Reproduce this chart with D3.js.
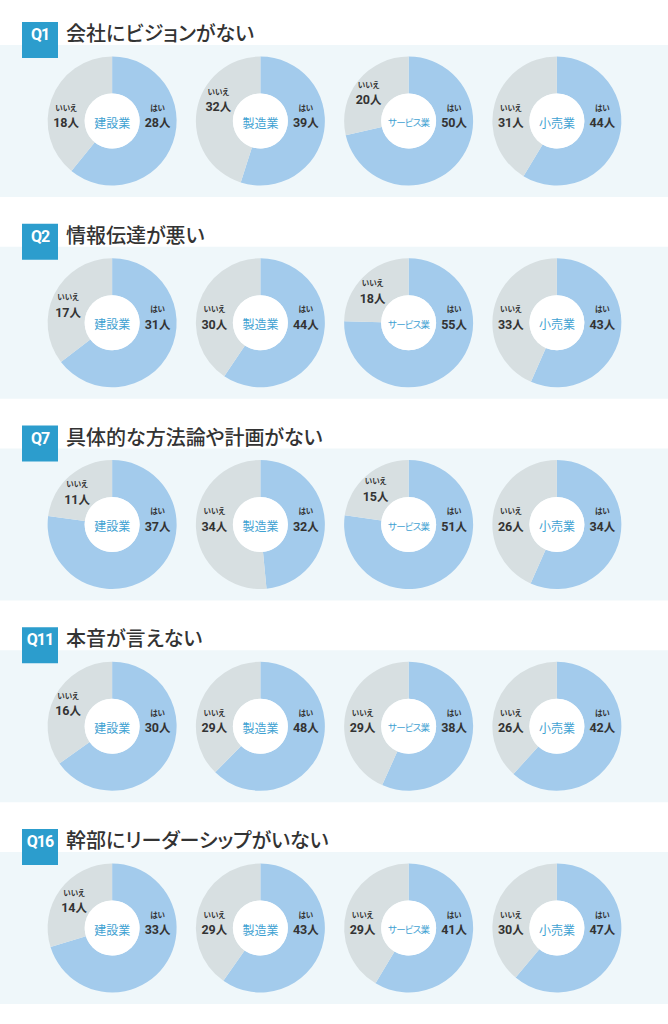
<!DOCTYPE html>
<html><head><meta charset="utf-8">
<script src="https://cdn.jsdelivr.net/npm/d3@7"></script>
<style>
html,body{margin:0;padding:0;background:#fff;}
svg{display:block;}
text{font-family:"Noto Sans CJK JP","Noto Sans",sans-serif;}
</style></head>
<body>
<script>
const questions = ["Q1","Q2","Q7","Q11","Q16"];
const titles = ["会社にビジョンがない","情報伝達が悪い","具体的な方法論や計画がない","本音が言えない","幹部にリーダーシップがいない"];
const industries = ["建設業","製造業","サービス業","小売業"];
const yesValues = [
  [28,39,50,44],
  [31,44,55,43],
  [37,32,51,34],
  [30,48,38,42],
  [33,43,41,47]
];
const noValues = [
  [18,32,20,31],
  [17,30,18,33],
  [11,34,15,26],
  [16,29,29,26],
  [14,29,29,30]
];
const answerLabels = ["はい","いいえ"];
const unit = "人";

// layout-only: offset of the いいえ label relative to each donut centre
const noLabelOffset = [
  [[-46,0],[-42,-16],[-40,-23],[-46,0]],
  [[-44,-12],[-46,0],[-36,-26],[-46,0]],
  [[-35,-27],[-46,0],[-33,-30],[-46,0]],
  [[-44,-17],[-46,0],[-46,0],[-46,0]],
  [[-38,-22],[-46,0],[-46,0],[-46,0]]
];

const W = 668, H = 1024;
const svg = d3.select("body").append("svg").attr("width", W).attr("height", H);

const sectionY = d3.scaleLinear().domain([0, questions.length - 1]).range([22, 829]);
const x = d3.scaleBand().domain(industries).range([38, 631]).padding(0);
const color = d3.scaleOrdinal().domain(answerLabels).range(["#a3cbec", "#d7dfe1"]);
const pie = d3.pie().sort(null).value(d => d.value);
const rOuter = 64.5, rInner = 27.5;
const arc = d3.arc().innerRadius(rInner).outerRadius(rOuter);

questions.forEach((q, qi) => {
  const top = sectionY(qi);
  const g = svg.append("g");
  // band
  g.append("rect").attr("x", 0).attr("y", top + 23).attr("width", W).attr("height", 152).attr("fill", "#eff7fa");
  // Q box
  g.append("rect").attr("x", 22).attr("y", top).attr("width", 36).attr("height", 36).attr("fill", "#2c9dcd");
  g.append("text").attr("x", 40).attr("y", top + 12.5).attr("text-anchor", "middle")
    .attr("dominant-baseline", "central")
    .style("font-family", "Roboto, 'DejaVu Sans', sans-serif").style("font-weight", 700)
    .style("font-size", "16px").style("letter-spacing", "-1px").attr("fill", "#fff").text(q);
  // title
  g.append("text").attr("x", 66).attr("y", top + 19)
    .style("font-size", "20px").style("font-weight", 500)
    .style("font-feature-settings", "'palt'")
    .attr("fill", "#333").text(titles[qi]);

  const cy = top + 99;
  industries.forEach((ind, ii) => {
    const cx = x(ind) + x.bandwidth() / 2;
    const data = [
      {key: answerLabels[0], value: yesValues[qi][ii]},
      {key: answerLabels[1], value: noValues[qi][ii]}
    ];
    const dg = g.append("g").attr("transform", `translate(${cx},${cy})`);
    dg.selectAll("path").data(pie(data)).join("path")
      .attr("d", arc).attr("fill", d => color(d.data.key));
    dg.append("circle").attr("r", rInner).attr("fill", "#fff");
    const ct = dg.append("text").attr("x", 0).attr("y", 1).attr("text-anchor", "middle")
      .attr("dominant-baseline", "central")
      .style("font-size", "12px").style("font-feature-settings", "'palt'")
      .attr("fill", "#3fa2d2").text(ind);
    let len = ct.node().getComputedTextLength();
    if (len > 42) {
      ct.style("letter-spacing", "-0.8px");
      len = ct.node().getComputedTextLength();
      if (len > 42) ct.style("font-size", (12 * 42 / len).toFixed(2) + "px");
    }

    // labels
    const off = noLabelOffset[qi][ii];
    const lab = [
      {dx: 45.5, dy: 0, small: answerLabels[0], val: yesValues[qi][ii]},
      {dx: off[0], dy: off[1], small: answerLabels[1], val: noValues[qi][ii]}
    ];
    lab.forEach(l => {
      dg.append("text").attr("x", l.dx).attr("y", l.dy - 14).attr("text-anchor", "middle")
        .attr("dominant-baseline", "central")
        .style("font-size", "7.5px").style("font-weight", 700)
        .style("font-feature-settings", "'palt'")
        .attr("fill", "#333").text(l.small);
      const t = dg.append("text").attr("x", l.dx).attr("y", l.dy + 1).attr("text-anchor", "middle")
        .attr("dominant-baseline", "central")
        .style("font-weight", 700).attr("fill", "#333");
      t.append("tspan").style("font-family", "Roboto, 'Noto Sans', sans-serif").style("font-size", "12.5px").text(l.val);
      t.append("tspan").style("font-size", "11.5px").text(unit);
    });
  });
});
</script>
</body></html>
